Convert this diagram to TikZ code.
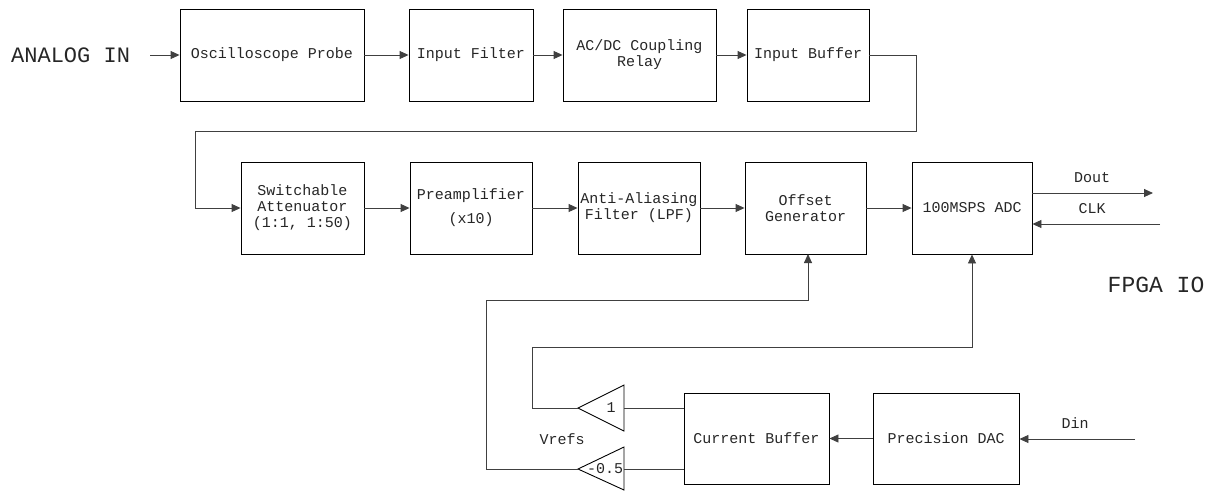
\documentclass[tikz,border=0pt]{standalone}
\usepackage{fontspec}
\setmainfont{Liberation Mono}
\usetikzlibrary{arrows.meta}
\begin{document}
\begin{tikzpicture}[x=1pt,y=-1pt,
  txt/.style={font=\fontsize{15}{16}\selectfont, text=black!85},
  blk/.style={draw, line width=0.9pt, inner sep=0pt, txt, align=center},
  wire/.style={line width=0.9pt, draw=black!75},
  arr/.style={wire, -{Triangle[length=9pt,width=8pt]}},
  lbl/.style={txt, inner sep=0pt},
  amp/.style={draw, line width=0.9pt}]
\useasboundingbox (0,0) rectangle (1210,491);
% row 1
\node[blk, minimum width=184pt, minimum height=92pt] (probe) at (272,55) {Oscilloscope Probe};
\node[blk, minimum width=124pt, minimum height=92pt] (filt) at (471,55) {Input Filter};
\node[blk, minimum width=153pt, minimum height=92pt] (relay) at (639.5,55) {AC/DC Coupling\\Relay};
\node[blk, minimum width=122pt, minimum height=92pt] (ibuf) at (808,55) {Input Buffer};
\node[font=\fontsize{22}{24}\selectfont, text=black!85, inner sep=0pt, anchor=west] (ain) at (11,55) {ANALOG IN};
\coordinate (ainend) at (150,55);
% row 2
\node[blk, minimum width=123pt, minimum height=92pt] (att) at (302.5,208) {Switchable\\Attenuator\\(1:1, 1:50)};
\node[blk, minimum width=122pt, minimum height=92pt] (pre) at (471,208) {Preamplifier\\[8pt](x10)};
\node[blk, minimum width=122pt, minimum height=92pt] (aaf) at (639,208) {Anti-Aliasing\\Filter (LPF)};
\node[blk, minimum width=121pt, minimum height=92pt] (off) at (805.5,208) {Offset\\Generator};
\node[blk, minimum width=120pt, minimum height=92pt] (adc) at (972,208) {100MSPS ADC};
\coordinate (doutend) at (1153,193);
\coordinate (clkstart) at (1160,224);
\node[lbl] (dout) at (1092,178) {Dout};
\node[lbl] (clk) at (1092,209) {CLK};
\node[font=\fontsize{23}{26}\selectfont, text=black!85, inner sep=0pt] (fpga) at (1156,285) {FPGA IO};
% row 3
\node[blk, minimum width=145pt, minimum height=91pt] (cbuf) at (756.5,438.5) {Current Buffer};
\node[blk, minimum width=146pt, minimum height=91pt] (dac) at (946,438.5) {Precision DAC};
\coordinate (dinstart) at (1135,439);
\node[lbl] (din) at (1075,423) {Din};
\node[lbl] (vrefs) at (562,439) {Vrefs};
% amplifiers
\draw[amp] (624,385) -- (624,431) -- (578,408) -- cycle;
\coordinate (a1in) at (624,408);
\coordinate (a1out) at (578,408);
\node[lbl] (a1) at (611,408) {1};
\draw[amp] (624,447) -- (624,490) -- (578,469) -- cycle;
\coordinate (a2in) at (624,469);
\coordinate (a2out) at (578,469);
\node[lbl] (a2) at (605,469) {-0.5};
% connectors
\draw[arr] (ainend) -- (probe.west);
\draw[arr] (probe) -- (filt);
\draw[arr] (filt) -- (relay);
\draw[arr] (relay) -- (ibuf);
\draw[arr] (ibuf.east) -- (916,55) -- (916,131) -- (195,131) -- (195,208) -- (att.west);
\draw[arr] (att) -- (pre);
\draw[arr] (pre) -- (aaf);
\draw[arr] (aaf) -- (off);
\draw[arr] (off) -- (adc);
\draw[arr] (adc.east |- doutend) -- (doutend);
\draw[arr] (clkstart) -- (adc.east |- clkstart);
\draw[arr] (dinstart) -- (dac.east |- dinstart);
\draw[arr] (dac) -- (cbuf);
\draw[wire] (cbuf.west |- a1in) -- (a1in);
\draw[wire] (cbuf.west |- a2in) -- (a2in);
\draw[arr] (a1out) -- (532,408) -- (532,347) -- (972,347) -- (adc.south);
\draw[arr] (a2out) -- (486,469) -- (486,300) -- (808,300) -- (808,254);
\end{tikzpicture}
\end{document}
